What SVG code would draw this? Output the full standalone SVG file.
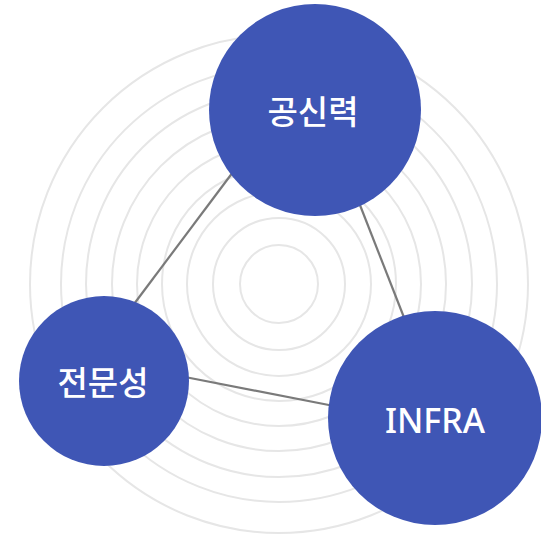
<svg xmlns="http://www.w3.org/2000/svg" width="541" height="538" viewBox="0 0 541 538">
<style>
.ring{fill:none;stroke:#e6e6e6;stroke-width:2}
.edge{stroke:#7a7a7a;stroke-width:2.2;fill:none}
.node{fill:#3f56b5}
.lbl{fill:#ffffff;font-family:"Noto Sans CJK KR","Noto Sans",sans-serif;font-weight:500;text-anchor:middle;dominant-baseline:central}
.lat{fill:#ffffff;font-family:"Noto Sans","Open Sans",sans-serif;font-weight:500;text-anchor:middle;dominant-baseline:central}
</style>
<rect width="541" height="538" fill="#ffffff"/>
<g id="rings">
<circle class="ring" cx="279" cy="284" r="39"/>
<circle class="ring" cx="279" cy="284" r="66"/>
<circle class="ring" cx="279" cy="284" r="92"/>
<circle class="ring" cx="279" cy="284" r="117"/>
<circle class="ring" cx="279" cy="284" r="142"/>
<circle class="ring" cx="279" cy="284" r="167"/>
<circle class="ring" cx="279" cy="284" r="193"/>
<circle class="ring" cx="279" cy="284" r="218"/>
<circle class="ring" cx="279" cy="284" r="249"/>
</g>
<g id="connectors">
<line class="edge" x1="233" y1="172" x2="134" y2="304"/>
<line class="edge" x1="358" y1="200" x2="405" y2="320"/>
<line class="edge" x1="185" y1="377" x2="334" y2="406"/>
</g>
<g id="node-gongsinryeok">
<circle class="node" cx="315" cy="110" r="106"/>
<text class="lbl" x="313" y="110" font-size="33">공신력</text>
</g>
<g id="node-jeonmunseong">
<circle class="node" cx="104" cy="381" r="85"/>
<text class="lbl" x="103" y="381" font-size="33">전문성</text>
</g>
<g id="node-infra">
<circle class="node" cx="435" cy="418" r="107"/>
<text class="lat" x="435" y="420" font-size="34">INFRA</text>
</g>
</svg>
